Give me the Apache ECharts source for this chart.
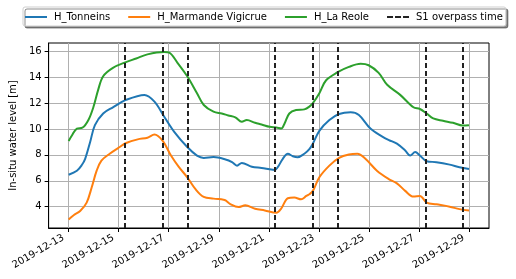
<!DOCTYPE html>
<html>
<head>
<meta charset="utf-8">
<script src="https://cdn.jsdelivr.net/npm/echarts@6/dist/echarts.min.js"></script>
<style>html,body{margin:0;padding:0;background:#fff}#c{width:516px;height:279px}</style>
</head>
<body>
<div id="c"></div>
<script>
// Day offsets measured from 2019-12-13 00:00 (UTC)
const baseDate = Date.UTC(2019, 11, 13);
const tonneinsDays = [0,0.33,0.52,0.66,0.86,1.05,1.38,1.77,2.29,3.03,3.43,3.82,4.22,4.74,5.13,5.4,5.79,6.27,6.53,6.73,6.92,7.32,7.71,8.24,8.37,8.56,8.76,8.96,9.15,9.42,9.62,9.76,10.02,10.42,10.81,11.27,11.6,12.06,12.52,12.8,13.12,13.45,13.65,13.85,14.04,14.31,14.7,15.23,15.62,16.0];
const tonneinsVals = [6.47,6.78,7.2,7.7,9.0,10.3,11.2,11.68,12.25,12.64,12.12,10.95,9.78,8.61,7.95,7.77,7.83,7.65,7.44,7.17,7.38,7.09,6.99,6.84,7.09,7.7,8.09,7.9,7.82,8.09,8.45,8.87,9.86,10.69,11.16,11.29,11.08,10.04,9.44,9.15,8.87,8.34,7.95,8.22,7.95,7.51,7.44,7.25,7.05,6.91];
const marmandeDays = [0,0.2,0.46,0.72,0.92,1.12,1.31,1.64,2.04,2.3,2.76,3.15,3.43,3.76,4.09,4.41,4.74,5.07,5.4,5.79,6.19,6.27,6.46,6.79,7.06,7.45,7.84,8.3,8.5,8.76,9.02,9.29,9.5,9.62,9.76,10.02,10.42,10.81,11.2,11.54,11.86,12.32,12.78,13.12,13.45,13.78,14.04,14.31,14.7,15.23,15.62,16.0];
const marmandeVals = [3.0,3.34,3.66,4.31,5.48,6.78,7.56,8.09,8.61,8.92,9.2,9.33,9.57,9.08,7.95,7.05,6.27,5.35,4.75,4.62,4.54,4.48,4.2,3.97,4.1,3.84,3.71,3.53,3.87,4.65,4.7,4.57,4.83,4.96,5.22,6.27,7.17,7.77,8.03,8.09,7.7,6.78,6.15,5.8,5.22,4.78,4.83,4.31,4.18,4.0,3.81,3.71];
const reoleDays = [0,0.13,0.33,0.55,0.79,0.99,1.18,1.38,1.77,2.29,2.7,3.15,3.82,4.02,4.35,4.74,5.13,5.4,5.79,6.12,6.38,6.66,6.92,7.12,7.45,7.71,8.04,8.3,8.5,8.63,8.82,9.09,9.42,9.62,9.76,10.02,10.29,10.75,11.2,11.67,11.99,12.39,12.73,13.25,13.78,14.04,14.31,14.57,14.96,15.36,15.75,16.0];
const reoleVals = [9.08,9.5,10.04,10.1,10.7,11.7,13.03,14.08,14.73,15.17,15.45,15.77,15.95,15.9,15.12,14.08,12.77,11.86,11.34,11.2,11.05,10.9,10.56,10.69,10.48,10.35,10.17,10.12,10.04,10.43,11.2,11.47,11.52,11.73,12.0,12.77,13.77,14.39,14.8,15.04,14.93,14.34,13.42,12.64,11.68,11.55,11.2,10.82,10.64,10.48,10.27,10.3];
const overpassTimes = ['2019-12-15T06:00Z','2019-12-16T18:00Z','2019-12-17T18:00Z','2019-12-21T06:00Z','2019-12-22T18:00Z','2019-12-23T18:00Z','2019-12-27T06:30Z','2019-12-28T18:00Z'];
const xTickLabels = ['2019-12-13','2019-12-15','2019-12-17','2019-12-19','2019-12-21','2019-12-23','2019-12-25','2019-12-27','2019-12-29'];
const yTickValues = [4,6,8,10,12,14,16];

const DAY = 86400000;
const toDay = s => (Date.parse(s) - baseDate) / DAY;
const toPairs = (days, vals) => days.map((d, i) => [d, vals[i]]);
const xTicks = xTickLabels.map(s => toDay(s + 'T00:00Z'));

const font = 'DejaVu Sans';
const chart = echarts.init(document.getElementById('c'), null, {renderer: 'canvas'});
const dash = {color: '#222', width: 2, type: [5, 3]};
const solidIcon = 'path://M0,0h22v2h-22z';
const dashIcon = 'path://M0,0h6v2h-6z M8,0h6v2h-6z M16,0h6v2h-6z';
chart.setOption({
  animation: false,
  textStyle: {fontFamily: font},
  grid: {left: 42, right: 27, top: 43, bottom: 51, show: true, borderColor: '#000', borderWidth: 1, backgroundColor: 'transparent'},
  legend: {
    left: 23, top: 7, padding: [5, 3, 4, 2], itemWidth: 22, itemHeight: 2, itemGap: 18,
    backgroundColor: '#fff', borderColor: '#cfcfcf', borderWidth: 1, borderRadius: 2,
    shadowColor: 'rgba(0,0,0,0.45)', shadowOffsetX: 2, shadowOffsetY: 2, shadowBlur: 0,
    textStyle: {fontFamily: font, fontSize: 10, color: '#000', padding: [0, 0, 0, 2]},
    data: [
      {name: 'H_Tonneins', icon: solidIcon},
      {name: 'H_Marmande Vigicrue', icon: solidIcon},
      {name: 'H_La Reole', icon: solidIcon},
      {name: 'S1 overpass time', icon: dashIcon, itemStyle: {color: '#222'}}
    ]
  },
  xAxis: {
    type: 'value',
    min: -0.8, max: 16.8,
    axisLine: {show: true, onZero: false, lineStyle: {color: '#000', width: 1}},
    axisTick: {show: true, length: 4, lineStyle: {color: '#000'}, customValues: xTicks},
    axisLabel: {customValues: xTicks, rotate: 30, margin: 6, fontSize: 10, color: '#000', fontFamily: font,
      padding: [0, 6, 0, 0],
      formatter: v => { const i = xTicks.indexOf(v); return i >= 0 ? xTickLabels[i] : ''; }},
    splitLine: {show: true, lineStyle: {color: '#b0b0b0', width: 1}}
  },
  yAxis: {
    type: 'value', min: 2.35, max: 16.65,
    name: 'In-situ water level [m]', nameLocation: 'middle', nameGap: 26,
    nameTextStyle: {fontSize: 10, color: '#000', fontFamily: font},
    axisLine: {show: true, onZero: false, lineStyle: {color: '#000', width: 1}},
    axisTick: {show: true, length: 4, lineStyle: {color: '#000'}, customValues: yTickValues},
    axisLabel: {customValues: yTickValues, margin: 7, fontSize: 10, color: '#000', fontFamily: font},
    splitLine: {show: true, lineStyle: {color: '#b0b0b0', width: 1}}
  },
  series: [
    {name: 'H_Tonneins', type: 'line', symbol: 'none', smooth: 0.35, data: toPairs(tonneinsDays, tonneinsVals), lineStyle: {color: '#1f77b4', width: 2}, itemStyle: {color: '#1f77b4'}},
    {name: 'H_Marmande Vigicrue', type: 'line', symbol: 'none', smooth: 0.35, data: toPairs(marmandeDays, marmandeVals), lineStyle: {color: '#ff7f0e', width: 2}, itemStyle: {color: '#ff7f0e'}},
    {name: 'H_La Reole', type: 'line', symbol: 'none', smooth: 0.35, data: toPairs(reoleDays, reoleVals), lineStyle: {color: '#2ca02c', width: 2}, itemStyle: {color: '#2ca02c'}},
    {name: 'S1 overpass time', type: 'line', symbol: 'none', data: [], lineStyle: dash, itemStyle: {color: '#222'},
     markLine: {silent: true, symbol: 'none', label: {show: false}, lineStyle: dash, emphasis: {disabled: true},
       data: overpassTimes.map(t => ({xAxis: toDay(t)}))}}
  ]
});
</script>
</body>
</html>
